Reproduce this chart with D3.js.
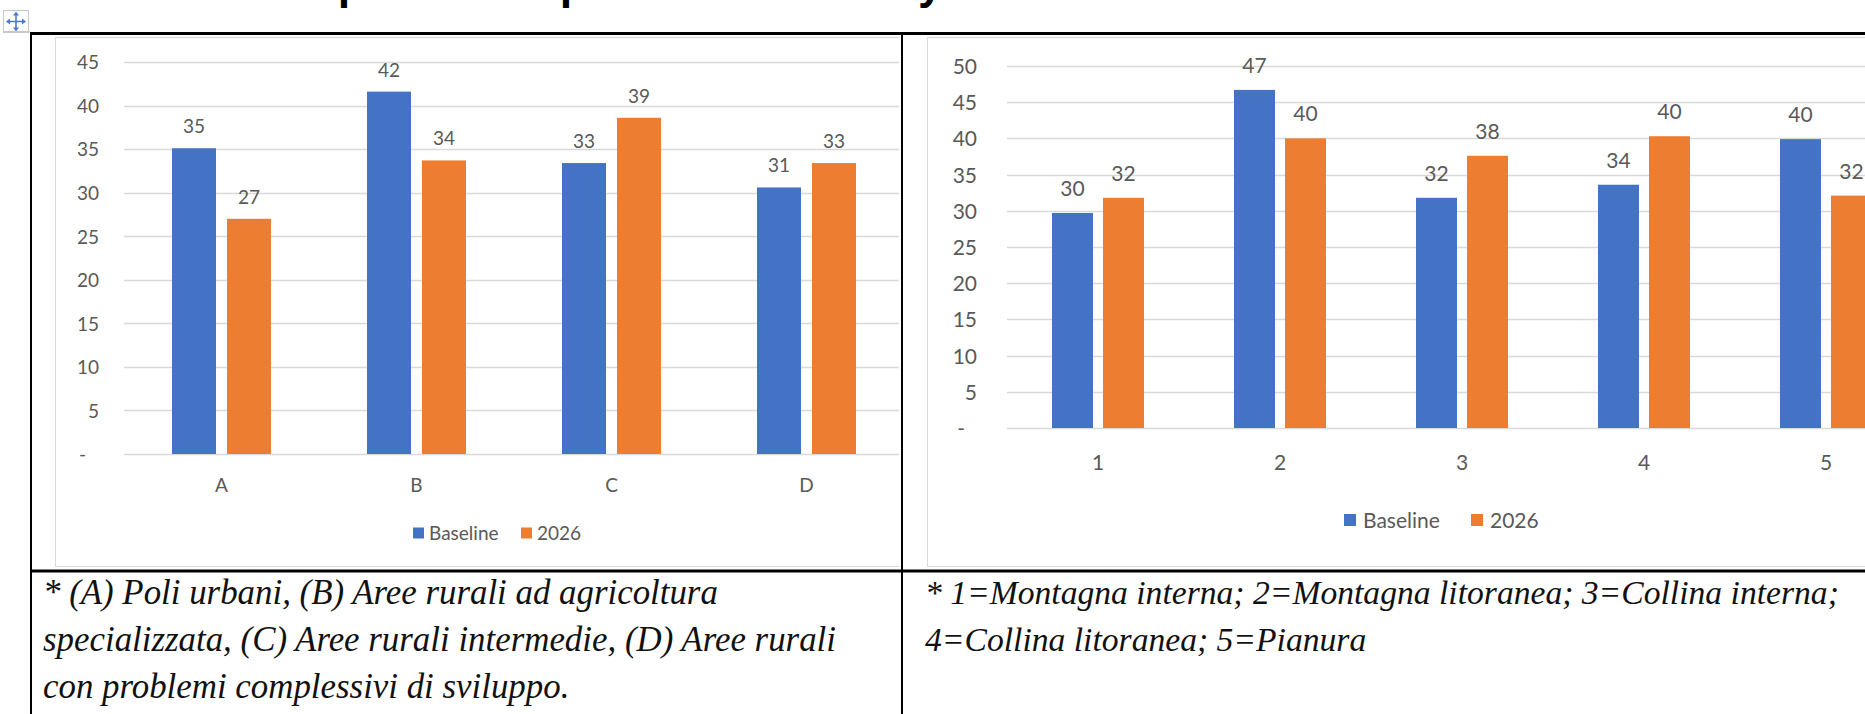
<!DOCTYPE html>
<html><head><meta charset="utf-8">
<script src="https://cdn.jsdelivr.net/npm/d3@7"></script>
<style>html,body{margin:0;padding:0;background:#fff;overflow:hidden}svg{display:block}</style>
</head><body>
<svg id="c" width="1865" height="714"></svg>
<script>
// ---------------- data ----------------
const seriesNames = ["Baseline", "2026"];
const seriesColors = ["#4472C4", "#ED7D31"];

const leftCategories = ["A", "B", "C", "D"];
const leftBaseline = [35.1, 41.6, 33.4, 30.6];
const left2026 = [27.0, 33.7, 38.6, 33.4];
const leftTicks = [0, 5, 10, 15, 20, 25, 30, 35, 40, 45];

const rightCategories = ["1", "2", "3", "4", "5"];
const rightBaseline = [29.7, 46.7, 31.8, 33.6, 39.9];
const right2026 = [31.8, 40.0, 37.6, 40.3, 32.1];
const rightTicks = [0, 5, 10, 15, 20, 25, 30, 35, 40, 45, 50];

const leftNoteLines = [
  "* (A) Poli urbani, (B) Aree rurali ad agricoltura",
  "specializzata, (C) Aree rurali intermedie, (D) Aree rurali",
  "con problemi complessivi di sviluppo."
];
const rightNoteLines = [
  "* 1=Montagna interna; 2=Montagna litoranea; 3=Collina interna;",
  "4=Collina litoranea; 5=Pianura"
];
const titleFragments = ["p", "p", "y"];

// ---------------- drawing ----------------
const svg = d3.select("#c");
const GRID = "#D9D9D9", TXT = "#595959";
const FONT = "Lato, 'Open Sans', sans-serif";

// cut-off title glyphs (only descenders visible, as in the reference)
const fragX = [338, 560, 919];
svg.append("g").selectAll("text").data(titleFragments).join("text")
  .attr("x", (d, i) => fragX[i]).attr("y", -1)
  .attr("font-family", "'Noto Sans', sans-serif").attr("font-weight", 700)
  .attr("font-size", 40).attr("fill", "#000").text(d => d);

// table move handle
const h = svg.append("g");
h.append("rect").attr("x", 3.5).attr("y", 10.5).attr("width", 25).attr("height", 22)
  .attr("fill", "#fff").attr("stroke", "#c8c8c8");
const hc = "#4a7bd0", cx = 16, cy = 21.5;
h.append("path").attr("d", `M${cx-8},${cy}H${cx+8}M${cx},${cy-8}V${cy+8}`)
  .attr("stroke", hc).attr("stroke-width", 1.6);
h.append("path").attr("fill", hc).attr("d",
  `M${cx-10},${cy}l4,-3v6z M${cx+10},${cy}l-4,-3v6z M${cx},${cy-10}l-3,4h6z M${cx},${cy+10}l-3,-4h6z`);

function drawChart(cfg) {
  const g = svg.append("g");
  const clipId = "clip" + cfg.id;
  svg.append("clipPath").attr("id", clipId).append("rect")
    .attr("x", cfg.frame[0]).attr("y", cfg.frame[1])
    .attr("width", cfg.frame[2] - cfg.frame[0]).attr("height", cfg.frame[3] - cfg.frame[1]);
  g.attr("clip-path", `url(#${clipId})`);
  // chart frame
  g.append("rect").attr("x", cfg.frame[0] + 0.5).attr("y", cfg.frame[1] + 0.5)
    .attr("width", cfg.frame[2] - cfg.frame[0] + 40).attr("height", cfg.frame[3] - cfg.frame[1] - 1)
    .attr("fill", "#fff").attr("stroke", GRID);

  const n = cfg.categories.length;
  const x = d3.scaleBand().domain(cfg.categories).range([cfg.x0, cfg.x0 + cfg.band * n]);
  const groupW = 2 * cfg.barW + cfg.gap;
  const xs = d3.scaleBand().domain(seriesNames)
    .range([(cfg.band - groupW) / 2, (cfg.band + groupW) / 2])
    .paddingInner(cfg.gap / (cfg.barW + cfg.gap));
  const y = d3.scaleLinear().domain([0, cfg.max]).range([cfg.y0, cfg.yTop]);

  // gridlines
  g.append("g").selectAll("line").data(cfg.ticks).join("line")
    .attr("x1", cfg.x0).attr("x2", cfg.x0 + cfg.band * n)
    .attr("y1", d => Math.round(y(d)) + 0.5).attr("y2", d => Math.round(y(d)) + 0.5)
    .attr("stroke", GRID).attr("stroke-width", 1.3);

  // y axis labels
  const ya = d3.axisLeft(y).tickValues(cfg.ticks).tickSize(0).tickPadding(0)
    .tickFormat(d => d === 0 ? "-" : d3.format("d")(d));
  const yg = g.append("g").attr("transform", `translate(${cfg.labelRight},0)`).call(ya);
  yg.select(".domain").remove();
  yg.selectAll("text").attr("font-family", FONT).attr("font-size", cfg.fs).attr("fill", TXT)
    .attr("dy", "0.36em");
  yg.selectAll(".tick").filter(d => d === 0).select("text").attr("dx", -cfg.dashOff);

  // bars
  const rows = cfg.categories.map((c, i) => ({ c, vals: [cfg.s1[i], cfg.s2[i]] }));
  const grp = g.append("g").selectAll("g").data(rows).join("g")
    .attr("transform", d => `translate(${x(d.c)},0)`);
  const cells = d => d.vals.map((v, k) => ({ v, k, s: seriesNames[k] }));
  grp.selectAll("rect").data(cells).join("rect")
    .attr("x", d => xs(d.s)).attr("width", xs.bandwidth())
    .attr("y", d => y(d.v)).attr("height", d => y(0) - y(d.v))
    .attr("fill", d => seriesColors[d.k]);
  grp.selectAll("text.v").data(cells).join("text").attr("class", "v")
    .attr("x", d => xs(d.s) + xs.bandwidth() / 2).attr("y", d => y(d.v) - cfg.valOff)
    .attr("text-anchor", "middle").attr("font-family", FONT).attr("font-size", cfg.fs)
    .attr("fill", TXT).text(d => Math.round(d.v));

  // category labels
  g.append("g").selectAll("text").data(cfg.categories).join("text")
    .attr("x", d => x(d) + cfg.band / 2).attr("y", cfg.y0 + cfg.catOff)
    .attr("text-anchor", "middle").attr("font-family", FONT).attr("font-size", cfg.fs)
    .attr("fill", TXT).text(d => d);

  // legend
  const lg = g.append("g");
  seriesNames.forEach((s, k) => {
    lg.append("rect").attr("x", cfg.legX[k]).attr("y", cfg.legY - cfg.sq / 2)
      .attr("width", cfg.sq).attr("height", cfg.sq).attr("fill", seriesColors[k]);
    lg.append("text").attr("x", cfg.legX[k] + cfg.sq + cfg.legPad).attr("y", cfg.legY)
      .attr("dy", "0.36em").attr("font-family", FONT).attr("font-size", cfg.fs)
      .attr("fill", TXT).text(s);
  });
}

drawChart({
  id: "L", categories: leftCategories, s1: leftBaseline, s2: left2026, ticks: leftTicks,
  max: 45, x0: 124, band: 195, barW: 44, gap: 11, y0: 454, yTop: 62,
  frame: [55, 37, 899, 567], labelRight: 99, dashOff: 13, fs: 19,
  valOff: 15, catOff: 38, legX: [413, 521], legY: 533, sq: 11, legPad: 5
});
drawChart({
  id: "R", categories: rightCategories, s1: rightBaseline, s2: right2026, ticks: rightTicks,
  max: 50, x0: 1007, band: 182, barW: 41, gap: 10, y0: 428, yTop: 66,
  frame: [927, 37, 1865, 567], labelRight: 977, dashOff: 12, fs: 21,
  valOff: 17, catOff: 42, legX: [1344, 1471], legY: 520, sq: 12, legPad: 7
});

// table borders
const tb = svg.append("g").attr("stroke", "#000");
tb.append("line").attr("x1", 30).attr("x2", 1865).attr("y1", 33.5).attr("y2", 33.5).attr("stroke-width", 3);
tb.append("line").attr("x1", 30).attr("x2", 1865).attr("y1", 571).attr("y2", 571).attr("stroke-width", 3);
tb.append("line").attr("x1", 31).attr("x2", 31).attr("y1", 32).attr("y2", 714).attr("stroke-width", 2);
tb.append("line").attr("x1", 902).attr("x2", 902).attr("y1", 32).attr("y2", 714).attr("stroke-width", 2);
svg.append("line").attr("x1", 3).attr("x2", 30).attr("y1", 31.5).attr("y2", 31.5).attr("stroke", "#c8c8c8");

// notes
function notes(lines, x, y0, lh, targetW) {
  const g = svg.append("g");
  const t = g.selectAll("text").data(lines).join("text")
    .attr("x", x).attr("y", (d, i) => y0 + i * lh)
    .attr("font-family", "'Liberation Serif', serif").attr("font-style", "italic")
    .attr("font-size", 30).attr("fill", "#111").text(d => d);
  const w = t.nodes()[0].getComputedTextLength();
  t.attr("font-size", 30 * targetW / w);
}
notes(leftNoteLines, 43, 604, 47, 675);
notes(rightNoteLines, 925, 604, 47, 914);
</script>
</body></html>
